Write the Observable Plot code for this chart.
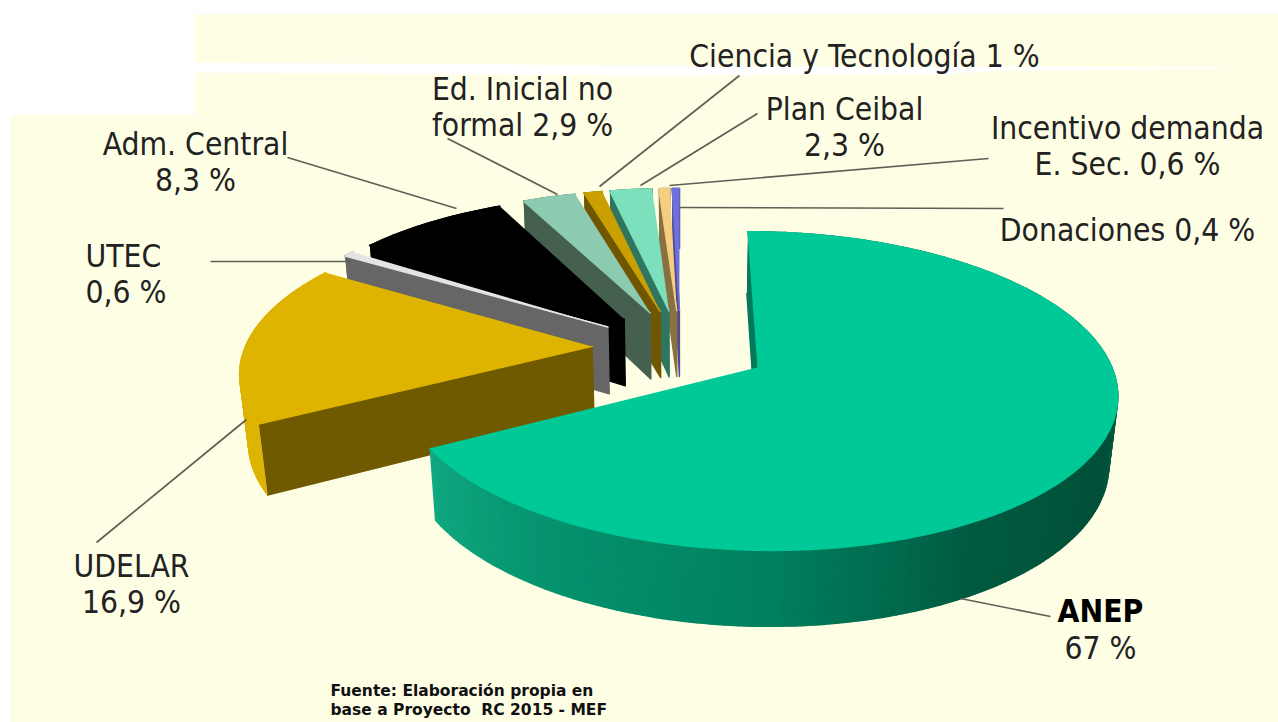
<!DOCTYPE html>
<html><head><meta charset="utf-8">
<script src="https://cdn.jsdelivr.net/npm/d3@7"></script>
<script src="https://cdn.jsdelivr.net/npm/@observablehq/plot@0.6"></script>
<style>html,body{margin:0;background:#fff}svg{display:block}</style>
</head><body><script>
// DATA (percent of budget, clockwise from 12 o'clock)
const categories = ["ANEP","UDELAR","UTEC","Adm. Central","Ed. Inicial no formal","Ciencia y Tecnología","Plan Ceibal","Incentivo demanda E. Sec.","Donaciones"];
const shares = [67,16.9,0.6,8.3,2.9,1,2.3,0.6,0.4];
const topColors = ["#00C896","#DEB400","#E4E4E4","#000000","#8CCBB0","#C9A000","#7CE0BC","#F5CE82","#7070DD"];
const sideColors = ["#007A5A","#705A00","#666666","#000000","#46604F","#705600","#2F7560","#8A7040","#4C4C90"];
const rimColors = ["#007A5A","#DEB400","#666666","#000000","#46604F","#705600","#2F7560","#8A7040","#4C4C90"];

// Projection of the exploded 3-D pie
const G = {x:680,y:347,A:347,B:150,p:0.146,q:0.02,h:69,e:0.255};
function proj(X,Y,low){
  const w = 1+G.p*Y+(low?G.q:0);
  return {x:G.x+G.A*X/w, y:G.y+(-G.B*Y+(low?G.h:0))/w};
}
const anepSide = d3.scaleLinear().domain([241,215,180,150,115,90]).range(["#10A880","#05946F","#007F5E","#005A40","#004E38","#006A4C"]).clamp(true);

const faces=[]; let fid=0;
function addFace(points,color){const id=fid++;for(const p of points)faces.push({x:p.x,y:p.y,id,color});}
let cum=0;
const slices=shares.map((v,i)=>{const a0=cum*3.6;cum+=v;return {i,a0,a1:cum*3.6};});
const rad=d=>d*Math.PI/180;
for(const s of [...slices.slice(1).reverse(),slices[0]]){
  const mid=rad((s.a0+s.a1)/2), ox=G.e*Math.sin(mid), oy=G.e*Math.cos(mid);
  const pt=(a,low)=>proj(ox+Math.sin(rad(a)),oy+Math.cos(rad(a)),low);
  const ap=low=>proj(ox,oy,low);
  const n=Math.max(1,Math.ceil((s.a1-s.a0)));
  // outer rim, one band per degree
  for(let k=0;k<n;k++){
    const a=s.a0+(s.a1-s.a0)*k/n,b=s.a0+(s.a1-s.a0)*(k+1)/n;
    addFace([pt(a,false),pt(b,false),pt(b,true),pt(a,true)],s.i===0?anepSide((a+b)/2):rimColors[s.i]);
  }
  // radial face at the start angle
  addFace([pt(s.a0,false),ap(false),ap(true),pt(s.a0,true)],sideColors[s.i]);
  // top face
  const top=[ap(false)];for(let k=0;k<=n;k++)top.push(pt(s.a0+(s.a1-s.a0)*k/n,false));
  addFace(top,topColors[s.i]);
}

const panels=[{x1:195,y1:14,x2:1278,y2:72},{x1:195,y1:72,x2:1278,y2:115},{x1:10,y1:115,x2:1278,y2:722}];
const stripeTop=[[195,62],[640,65],[1220,67]], stripeBottom=[[1220,69],[1000,70],[940,74],[640,75],[195,72]];
const stripe=[...stripeTop,...stripeBottom].map(([x,y])=>({x,y}));
const leaders=[
 [960,598,1050,616],[246,419,96,542],[350,261,210,261],[456,208,287,157],
 [557,194,447,138],[599,186,739,75],[640,185,757,113],[669,185,988,158],[679,207,1003,208]
].map(([x1,y1,x2,y2])=>({x1,y1,x2,y2}));
const labels=[
 {t:"Ciencia y Tecnología 1 %",x:864,y:55,a:"middle"},
 {t:"Ed. Inicial no\nformal 2,9 %",x:522,y:106,a:"middle"},
 {t:"Plan Ceibal\n2,3 %",x:844,y:126,a:"middle"},
 {t:"Incentivo demanda\nE. Sec. 0,6 %",x:1127,y:145,a:"middle"},
 {t:"Donaciones 0,4 %",x:1127,y:229,a:"middle"},
 {t:"Adm. Central\n8,3 %",x:195,y:161,a:"middle"},
 {t:"UTEC\n0,6 %",x:85,y:273,a:"start"},
 {t:"UDELAR\n16,9 %",x:131,y:583,a:"middle"},
 {t:"67 %",x:1100,y:647,a:"middle"}
];
const font="'DejaVu Sans Condensed','DejaVu Sans',sans-serif";
const chart=Plot.plot({
  width:1278,height:722,margin:0,
  x:{domain:[0,1278],range:[0,1278],axis:null},
  y:{domain:[0,722],range:[0,722],axis:null},
  marks:[
    Plot.rect(panels,{x1:"x1",x2:"x2",y1:"y1",y2:"y2",fill:"#FEFEE5"}),
    Plot.line(stripe,{x:"x",y:"y",fill:"#fff",stroke:"none"}),
    Plot.line(faces,{x:"x",y:"y",z:"id",fill:{value:"color",scale:null},stroke:{value:"color",scale:null},strokeWidth:1.4,strokeLinejoin:"round"}),
    Plot.link(leaders,{x1:"x1",y1:"y1",x2:"x2",y2:"y2",stroke:"#5f5f55",strokeWidth:1.7}),
    Plot.text(labels.filter(d=>d.a==="middle"),{x:"x",y:"y",text:"t",textAnchor:"middle",lineHeight:1.15,fontSize:31.5,fontFamily:font,fill:"#222"}),
    Plot.text(labels.filter(d=>d.a==="start"),{x:"x",y:"y",text:"t",textAnchor:"start",lineHeight:1.15,fontSize:31.5,fontFamily:font,fill:"#222"}),
    Plot.text([{t:"ANEP",x:1100,y:611}],{x:"x",y:"y",text:"t",textAnchor:"middle",fontSize:31.5,fontWeight:"bold",fontFamily:font,fill:"#000"}),
    Plot.text([{t:"Fuente: Elaboración propia en\nbase a Proyecto  RC 2015 - MEF",x:330,y:699}],{x:"x",y:"y",text:"t",textAnchor:"start",lineHeight:1.23,fontSize:15.5,fontWeight:"bold",fontFamily:"'DejaVu Sans',sans-serif",fill:"#111"})
  ]
});
document.body.appendChild(chart);
</script></body></html>
